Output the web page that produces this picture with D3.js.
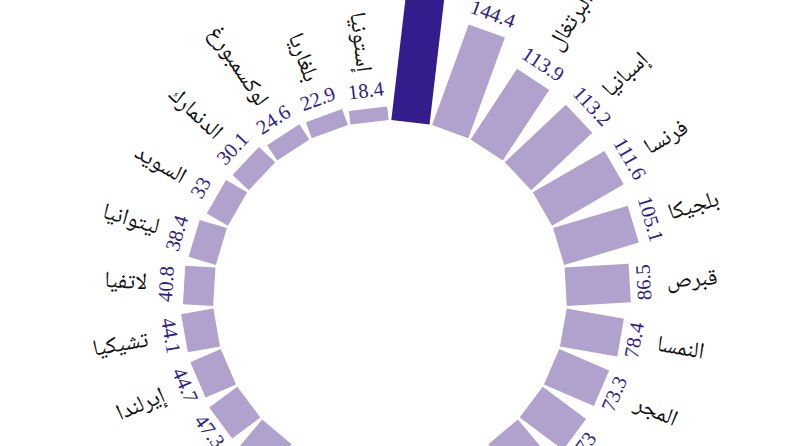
<!DOCTYPE html>
<html>
<head>
<meta charset="utf-8">
<script src="https://cdn.jsdelivr.net/npm/d3@7"></script>
<style>
  html, body { margin: 0; padding: 0; background: #fff; }
  svg { display: block; }
</style>
</head>
<body>
<svg id="chart" width="792" height="446"></svg>
<script>
// Government debt (% of GDP), EU countries, sorted descending
const countries = ["اليونان","إيطاليا","البرتغال","إسبانيا","فرنسا","بلجيكا","قبرص","النمسا","المجر","فنلندا","سلوفينيا","كرواتيا","ألمانيا","سلوفاكيا","مالطا","هولندا","بولندا","رومانيا","إيرلندا","تشيكيا","لاتفيا","ليتوانيا","السويد","الدنمارك","لوكسمبورغ","بلغاريا","إستونيا"];
const values = [171.3,144.4,113.9,113.2,111.6,105.1,86.5,78.4,73.3,73.0,69.9,68.4,66.3,57.8,53.4,51.0,49.1,47.3,44.7,44.1,40.8,38.4,33.0,30.1,24.6,22.9,18.4];
const highlighted = ["اليونان"];

const data = countries.map((c, i) => ({ country: c, value: values[i] }));

const W = 792, H = 446;
const cx = 390, cy = 297;
const innerR = 176, outerR = 303;
const barW = 38.5;

const svg = d3.select("#chart");
const g = svg.append("g").attr("transform", `translate(${cx},${cy})`);

const x = d3.scaleBand()
  .domain(countries)
  .range([0, 360])
  .padding(0);

const y = d3.scaleLinear()
  .domain([0, d3.max(values)])
  .range([innerR, outerR]);

const mid = d => x(d.country) + x.bandwidth() / 2;
const endA = d => x(d.country) + x.bandwidth();

// bars
g.selectAll("rect.bar")
  .data(data)
  .join("rect")
  .attr("class", "bar")
  .attr("transform", d => `rotate(${mid(d)})`)
  .attr("x", -barW / 2)
  .attr("y", d => -y(d.value))
  .attr("width", barW)
  .attr("height", d => y(d.value) - innerR)
  .attr("fill", d => highlighted.includes(d.country) ? "#351c8c" : "#b0a1cd");

// value labels (tangential)
g.selectAll("text.val")
  .data(data)
  .join("text")
  .attr("class", "val")
  .attr("transform", d => {
    const e = endA(d);
    const flip = e > 90 && e <= 270;
    return `rotate(${mid(d)}) translate(0,${-(y(d.value) + 16)})` + (flip ? " rotate(180)" : "");
  })
  .attr("text-anchor", "middle")
  .attr("dominant-baseline", "middle")
  .attr("font-family", "'Liberation Serif', 'DejaVu Serif', serif")
  .attr("font-size", 20.5)
  .attr("fill", "#2e1d8a")
  .text(d => d3.format("")(d.value));

// country names (radial)
g.selectAll("text.name")
  .data(data)
  .join("text")
  .attr("class", "name")
  .attr("transform", d => {
    const a = mid(d);
    const left = a > 180;
    return `rotate(${a - 90}) translate(${y(d.value) + 37},0)` + (left ? " rotate(180)" : "");
  })
  .attr("text-anchor", d => mid(d) > 180 ? "end" : "start")
  .attr("dominant-baseline", "middle")
  .attr("font-family", "'Noto Naskh Arabic', 'Noto Sans Arabic', 'DejaVu Sans', sans-serif")
  .attr("font-size", 23)
  .attr("fill", "#111")
  .text(d => d.country);
</script>
</body>
</html>
